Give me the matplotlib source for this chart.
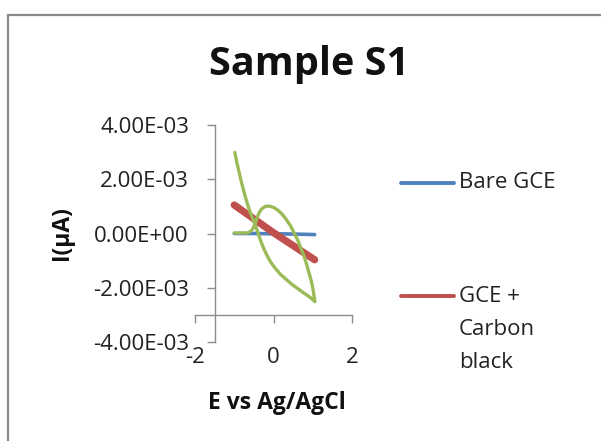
import matplotlib
matplotlib.use("Agg")
import matplotlib.pyplot as plt
from matplotlib.lines import Line2D
from matplotlib.patches import Rectangle
from matplotlib.ticker import FuncFormatter, FixedLocator

plt.rcParams['font.family'] = ['Open Sans', 'DejaVu Sans']

# Data (E in V, I as plotted)
bare_E = [-1.0, -0.5, 0.0, 0.5, 1.05]
bare_I = [0.0, 0.0, -0.01e-3, -0.02e-3, -0.04e-3]

cb_E = [-1.0, 0.0, 1.05]
cb_I = [1.05e-3, 0.03e-3, -0.97e-3]

green_E = [-0.985, -0.934, -0.875, -0.815, -0.747, -0.679, -0.620, -0.552, -0.493, -0.425, -0.366,
           -0.306, -0.238, -0.153, -0.069, 0.059, 0.186, 0.330, 0.483, 0.627, 0.779, 0.932, 1.055,
           1.034, 1.008, 0.966, 0.907, 0.847, 0.779, 0.695, 0.610, 0.525, 0.440, 0.338, 0.228,
           0.118, 0.016, -0.069, -0.153, -0.221, -0.281, -0.332, -0.374, -0.417, -0.459, -0.501,
           -0.544, -0.603, -0.679, -0.832, -1.0]
green_I = [2.99e-3, 2.62e-3, 2.25e-3, 1.88e-3, 1.51e-3, 1.16e-3, 0.89e-3, 0.64e-3, 0.42e-3, 0.15e-3, -0.10e-3,
           -0.35e-3, -0.59e-3, -0.84e-3, -1.06e-3, -1.31e-3, -1.52e-3, -1.70e-3, -1.89e-3, -2.04e-3, -2.20e-3, -2.35e-3, -2.51e-3,
           -2.32e-3, -2.07e-3, -1.77e-3, -1.46e-3, -1.15e-3, -0.84e-3, -0.53e-3, -0.22e-3, 0.02e-3, 0.27e-3, 0.49e-3, 0.70e-3,
           0.85e-3, 0.95e-3, 1.00e-3, 1.01e-3, 0.99e-3, 0.93e-3, 0.85e-3, 0.74e-3, 0.58e-3, 0.40e-3, 0.25e-3,
           0.14e-3, 0.06e-3, 0.02e-3, 0.02e-3, 0.02e-3]

x_ticks = [-2, 0, 2]
y_ticks = [-4e-3, -2e-3, 0.0, 2e-3, 4e-3]

W, H = 601, 441
fig = plt.figure(figsize=(W / 100, H / 100), dpi=100)

# outer chart frame
fig.add_artist(Rectangle((8 / W, -0.2), 1.5, 1 - 15 / H + 0.2, transform=fig.transFigure,
                         fill=False, edgecolor='#8a8a8a', linewidth=1.6))

ax = fig.add_axes([195 / W, 1 - 342 / H, 157 / W, 217 / H])
ax.patch.set_alpha(0)

blue = '#4F81BD'
red = '#C0504D'
green = '#9BBB59'

ax.plot(bare_E, bare_I, color=blue, lw=2.6, solid_capstyle='round', zorder=3)
ax.plot(cb_E, cb_I, color=red, lw=5.2, solid_capstyle='round', zorder=4)
ax.plot(green_E, green_I, color=green, lw=2.4, solid_capstyle='round', solid_joinstyle='round', zorder=5)

ax.set_xlim(-2, 2)
ax.set_ylim(-4e-3, 4e-3)
ax.spines['top'].set_visible(False)
ax.spines['right'].set_visible(False)
ax.spines['left'].set_position(('data', -1.5))
ax.spines['bottom'].set_position(('data', -3e-3))
for s in ('left', 'bottom'):
    ax.spines[s].set_color('#8c8c8c')
    ax.spines[s].set_linewidth(1.0)

ax.xaxis.set_major_locator(FixedLocator(x_ticks))
ax.yaxis.set_major_locator(FixedLocator(y_ticks))
ax.yaxis.set_major_formatter(FuncFormatter(lambda v, p: f"{v:.2E}"))
ax.xaxis.set_major_formatter(FuncFormatter(lambda v, p: f"{int(round(v))}"))
ax.tick_params(axis='y', direction='out', length=5.5, width=1.0, color='#8c8c8c', pad=13,
               labelsize=16, labelcolor='#222222')
ax.tick_params(axis='x', direction='out', length=6, width=1.0, color='#8c8c8c', pad=17,
               labelsize=16, labelcolor='#222222')

fig.text(309.5 / W, 1 - 65 / H, 'Sample S1', ha='center', va='center', fontsize=28.5, fontweight='bold', color='#111111')
fig.text(276.5 / W, 1 - 403 / H, 'E vs Ag/AgCl', ha='center', va='center', fontsize=16.5, fontweight='bold', color='#111111')
fig.text(62 / W, 1 - 233 / H, 'I(µA)', ha='center', va='center', rotation=90, fontsize=16.5, fontweight='bold', color='#111111')

# legend
fig.add_artist(Line2D([401 / W, 454 / W], [1 - 183 / H] * 2, transform=fig.transFigure,
                      color=blue, lw=2.8, solid_capstyle='round'))
fig.text(459 / W, 1 - 183 / H, 'Bare GCE', ha='left', va='center', fontsize=16, color='#222222')
fig.add_artist(Line2D([401 / W, 454 / W], [1 - 296 / H] * 2, transform=fig.transFigure,
                      color=red, lw=2.8, solid_capstyle='round'))
for i, t in enumerate(['GCE +', 'Carbon', 'black']):
    fig.text(459 / W, 1 - (296 + 33.5 * i) / H, t, ha='left', va='center', fontsize=16, color='#222222')

fig.savefig('out.png', dpi=100)
